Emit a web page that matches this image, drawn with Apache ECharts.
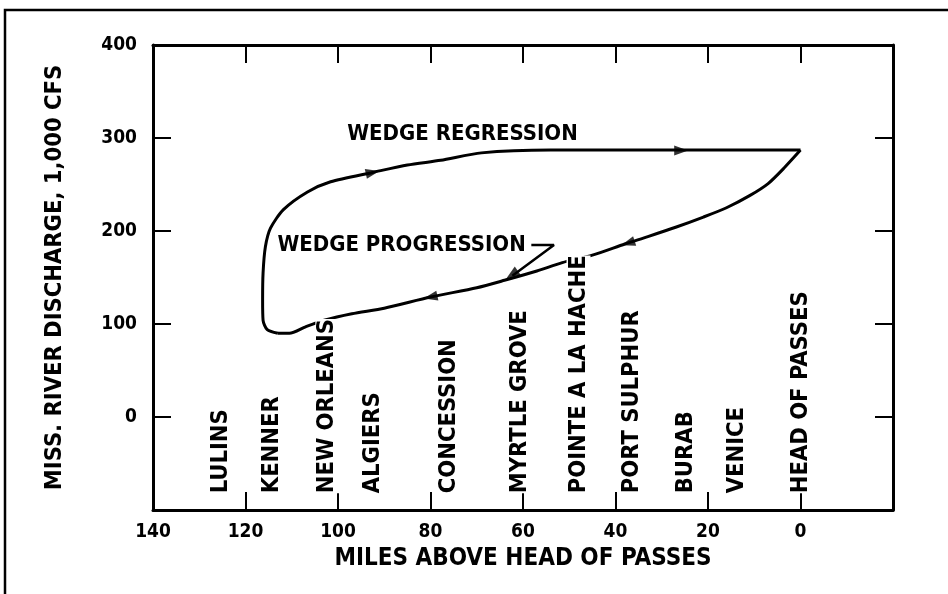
<!DOCTYPE html>
<html>
<head>
<meta charset="utf-8">
<script src="https://cdn.jsdelivr.net/npm/echarts@6/dist/echarts.min.js"></script>
<style>
html,body{margin:0;padding:0;background:#fff;}
#chart{width:948px;height:594px;}
</style>
</head>
<body>
<div id="chart"></div>
<script>
// ---- data ----
const xTicks = [140, 120, 100, 80, 60, 40, 20, 0];
const yTicks = [400, 300, 200, 100, 0];

// lower branch (wedge progression), from head of passes upstream
const lowerMiles = [0, 3.5, 7, 11, 16, 21, 27, 33, 38, 45, 51.5, 57, 64, 70, 80, 90, 97, 103, 107, 110.5, 113];
const lowerQ     = [287, 268, 251, 238, 225, 215, 204, 194, 186, 174, 166, 157, 147, 139, 129, 117, 111, 104, 97, 90, 90];

// upper branch (wedge regression), from the upstream end back to head of passes
const upperMiles = [113, 115.3, 116.2, 116.3, 116.2, 115.7, 114.6, 111.8, 106.6, 101.6, 92.5, 85, 77.8, 69, 54, 40, 26, 0];
const upperQ     = [90, 94, 104, 126, 155, 183, 203, 223, 242, 253, 263, 271, 276, 284, 287, 287, 287, 287];

// direction arrows on the loop (last one is the tip of the leader)
const arrowMiles = [92.5, 25.8, 37.3, 80, 62.4];
const arrowQ     = [263, 286.5, 187, 129, 153];

// leader from "WEDGE PROGRESSION" to the curve
const leaderMiles = [58.2, 53.3, 62.3];
const leaderQ     = [185, 185, 152];

// stations
const stationNames = ['LULINS', 'KENNER', 'NEW ORLEANS', 'ALGIERS', 'CONCESSION', 'MYRTLE GROVE', 'POINTE A LA HACHE', 'PORT SULPHUR', 'BURAB', 'VENICE', 'HEAD OF PASSES'];
const stationMiles = [125.3, 114.2, 102.3, 92.5, 76, 60.7, 48, 36.4, 24.7, 13.7, 0];

// curve annotations
const noteTexts = ['WEDGE REGRESSION', 'WEDGE PROGRESSION'];
const noteMiles = [98, 113.1];
const noteQ     = [304, 185];

// ---- chart ----
const FONT = "'DejaVu Sans Condensed','Liberation Sans Narrow','DejaVu Sans',sans-serif";
const arrowTurn = [-78, -90, 108, 102, 125];
const stationBaseQ = -82;

const chart = echarts.init(document.getElementById('chart'), null, {renderer: 'canvas'});

const axisCommon = {
  type: 'value',
  axisLine: {show: true, onZero: false, lineStyle: {color: '#000', width: 3}},
  axisTick: {show: true, inside: true, length: 18, lineStyle: {color: '#000', width: 2}},
  splitLine: {show: false}
};
const txt = {color: '#000', fontFamily: FONT, fontWeight: 'bold', textBorderWidth: 0, opacity: 1};

const option = {
  animation: false,
  backgroundColor: '#fff',
  grid: {left: 153, right: 55, top: 45, bottom: 84, containLabel: false},
  xAxis: [
    Object.assign({}, axisCommon, {
      position: 'bottom', inverse: true, min: -20, max: 140, interval: 20,
      axisLabel: Object.assign({show: true, margin: 13, fontSize: 19,
        formatter: v => xTicks.indexOf(v) >= 0 ? String(v) : ''}, txt),
      name: 'MILES ABOVE HEAD OF PASSES', nameLocation: 'middle', nameGap: 35,
      nameTextStyle: Object.assign({fontSize: 24}, txt)
    }),
    Object.assign({}, axisCommon, {
      position: 'top', inverse: true, min: -20, max: 140, interval: 20,
      axisLabel: {show: false}
    })
  ],
  yAxis: [
    Object.assign({}, axisCommon, {
      position: 'left', min: -100, max: 400, interval: 100,
      axisLabel: Object.assign({show: true, margin: 16, fontSize: 19,
        formatter: v => yTicks.indexOf(v) >= 0 ? String(v) : ''}, txt),
      name: 'MISS. RIVER DISCHARGE, 1,000 CFS', nameLocation: 'middle', nameGap: 86,
      nameTextStyle: Object.assign({fontSize: 23.5}, txt)
    }),
    Object.assign({}, axisCommon, {
      position: 'right', min: -100, max: 400, interval: 100,
      axisLabel: {show: false}
    })
  ],
  graphic: [{
    type: 'polyline', silent: true, z: 100,
    shape: {points: [[5, 600], [5, 10], [948, 10]]},
    style: {fill: 'none', stroke: '#000', lineWidth: 2.5}
  }],
  series: [
    {
      type: 'line', name: 'progression', smooth: 0.25, showSymbol: false, symbol: 'none',
      data: lowerMiles.map((m, i) => [m, lowerQ[i]]),
      lineStyle: {color: '#000', width: 3}, z: 3
    },
    {
      type: 'line', name: 'regression', smooth: 0.25, showSymbol: false, symbol: 'none',
      data: upperMiles.map((m, i) => [m, upperQ[i]]),
      lineStyle: {color: '#000', width: 3}, z: 3
    },
    {
      type: 'line', name: 'leader', smooth: false, showSymbol: false, symbol: 'none',
      data: leaderMiles.map((m, i) => [m, leaderQ[i]]),
      lineStyle: {color: '#000', width: 2.5}, z: 3
    },
    {
      type: 'scatter', name: 'arrows', symbol: 'triangle', symbolSize: [10, 14],
      symbolRotate: (val, p) => arrowTurn[p.dataIndex],
      data: arrowMiles.map((m, i) => [m, arrowQ[i]]),
      itemStyle: {color: '#000'}, z: 4
    },
    {
      type: 'scatter', name: 'stations', symbolSize: 0, itemStyle: {color: '#fff'},
      data: stationNames.map((n, i) => ({name: n, value: [stationMiles[i], stationBaseQ]})),
      label: Object.assign({show: true, position: 'inside', rotate: 90, align: 'left', verticalAlign: 'middle',
        formatter: p => p.name, fontSize: 23.5, backgroundColor: '#fff', padding: 0}, txt),
      z: 6
    },
    {
      type: 'scatter', name: 'notes', symbolSize: 0, itemStyle: {color: '#fff'},
      data: noteTexts.map((t, i) => ({name: t, value: [noteMiles[i], noteQ[i]]})),
      label: Object.assign({show: true, position: 'right', distance: 0, align: 'left', verticalAlign: 'middle',
        formatter: p => p.name, fontSize: 22}, txt),
      z: 6
    }
  ]
};
chart.setOption(option);
</script>
</body>
</html>
